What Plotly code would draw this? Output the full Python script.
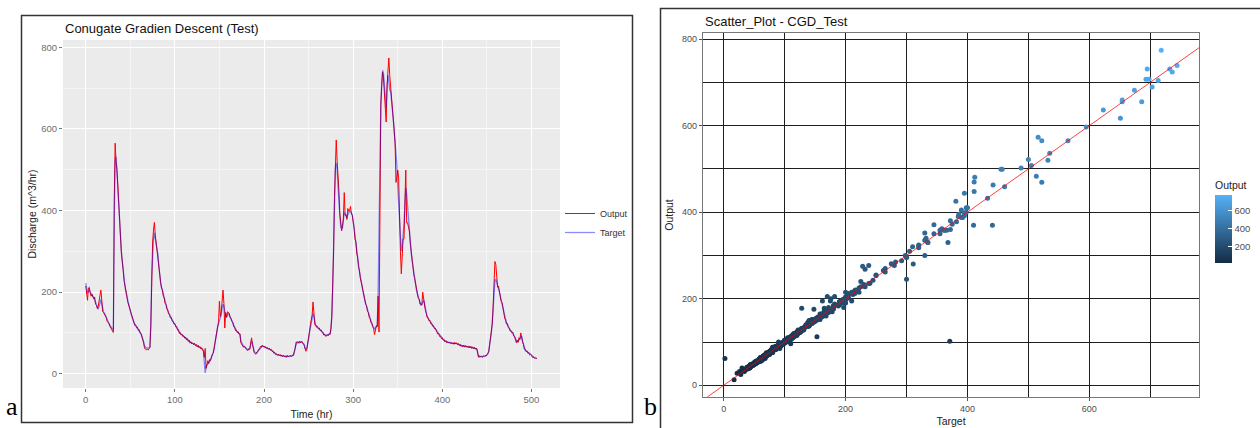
import plotly.graph_objects as go

# ---------------- data ----------------
target = [
    222, 210, 197, 203, 205, 200, 196, 192, 190, 188,
    182, 178, 172, 168, 158, 165, 175, 182, 172, 158,
    152, 148, 143, 137, 131, 127, 123, 119, 116, 113,
    110, 107, 381, 522, 532, 488, 442, 400, 362, 330,
    300, 275, 250, 232, 215, 200, 190, 180, 168, 158,
    152, 145, 138, 131, 125, 121, 118, 115, 112, 109,
    106, 102, 97, 92, 86, 78, 68, 64, 63, 63,
    63, 64, 66, 120, 238, 310, 330, 345, 332, 320,
    305, 292, 265, 240, 222, 212, 203, 192, 183, 174,
    166, 160, 154, 149, 144, 139, 135, 131, 127, 124,
    120, 117, 113, 109, 105, 101, 99, 97, 95, 93,
    91, 89, 87, 85, 83, 81, 79, 77, 76, 75,
    74, 73, 72, 71, 69, 68, 67, 66, 65, 63,
    62, 60, 58, 30, 2, 17, 22, 26, 28, 30,
    34, 38, 45, 52, 60, 75, 90, 105, 115, 122,
    128, 135, 145, 162, 170, 165, 153, 142, 140, 145,
    148, 144, 140, 134, 130, 124, 118, 112, 108, 105,
    103, 101, 99, 96, 80, 74, 70, 67, 66, 64,
    62, 60, 59, 60, 62, 70, 80, 75, 62, 55,
    51, 50, 51, 55, 58, 62, 65, 67, 68, 67,
    66, 65, 64, 63, 62, 62, 61, 60, 58, 56,
    54, 52, 50, 48, 47, 46, 46, 45, 45, 44,
    44, 43, 43, 42, 42, 42, 43, 42, 42, 42,
    43, 43, 44, 46, 52, 65, 75, 77, 76, 76,
    77, 77, 78, 76, 75, 72, 62, 60, 62, 70,
    85, 100, 115, 128, 138, 148, 140, 122, 118, 116,
    114, 112, 110, 108, 106, 104, 100, 97, 95, 94,
    94, 95, 95, 96, 98, 107, 140, 205, 300, 433,
    505, 516, 500, 461, 411, 386, 362, 355, 358, 372,
    395, 392, 385, 382, 390, 395, 398, 398, 395, 390,
    375, 355, 335, 320, 300, 282, 265, 250, 238, 225,
    212, 200, 190, 180, 172, 164, 156, 148, 140, 133,
    127, 122, 117, 113, 110, 112, 115, 118, 200, 371,
    535, 654, 713, 744, 736, 703, 686, 651, 698, 732,
    718, 695, 693, 674, 654, 623, 595, 565, 522, 513,
    457, 412, 366, 330, 300, 311, 335, 368, 411, 455,
    441, 410, 372, 345, 320, 298, 280, 262, 245, 230,
    216, 205, 196, 188, 180, 172, 168, 170, 176, 180,
    172, 158, 145, 140, 136, 132, 128, 125, 122, 119,
    116, 113, 110, 107, 102, 99, 96, 93, 90, 88,
    86, 84, 82, 80, 79, 78, 77, 77, 76, 76,
    75, 75, 74, 74, 75, 75, 74, 73, 72, 71,
    70, 69, 68, 68, 68, 67, 67, 67, 66, 66,
    66, 65, 65, 64, 64, 63, 63, 62, 61, 60,
    44, 42, 42, 42, 42, 42, 42, 43, 43, 44,
    45, 48, 55, 68, 85, 100, 125, 160, 200, 228,
    232, 225, 215, 210, 200, 190, 180, 172, 162, 150,
    138, 128, 124, 120, 115, 110, 107, 104, 102, 100,
    95, 90, 85, 80, 78, 80, 82, 86, 90, 92,
    80, 70, 62, 58, 56, 54, 52, 50, 48, 46,
    44, 42, 40, 39, 38, 38, 37,
]

output = [
    215, 195, 180, 210, 212, 198, 190, 195, 186, 183,
    188, 170, 168, 160, 165, 178, 195, 205, 180, 152,
    150, 146, 145, 138, 128, 125, 124, 117, 113, 110,
    105, 101, 425, 565, 520, 502, 463, 410, 358, 335,
    296, 281, 255, 228, 218, 204, 193, 177, 170, 160,
    155, 143, 140, 133, 127, 119, 120, 113, 114, 107,
    108, 100, 99, 90, 88, 75, 62, 60, 59, 60,
    58, 61, 64, 115, 277, 320, 352, 371, 340, 318,
    310, 288, 270, 236, 225, 210, 206, 190, 186, 172,
    170, 158, 157, 147, 146, 137, 138, 129, 129, 122,
    123, 115, 116, 107, 108, 99, 101, 95, 97, 91,
    93, 87, 90, 83, 86, 79, 82, 75, 78, 73,
    76, 71, 75, 69, 72, 66, 70, 64, 67, 61,
    64, 58, 55, 40, 62, 13, 28, 32, 25, 35,
    32, 42, 48, 50, 64, 72, 95, 110, 118, 128,
    178, 140, 152, 195, 205, 172, 112, 150, 138, 152,
    150, 148, 137, 136, 128, 126, 115, 114, 106, 107,
    101, 103, 97, 98, 76, 72, 68, 65, 68, 62,
    60, 58, 57, 62, 60, 75, 88, 72, 58, 52,
    49, 48, 53, 54, 60, 60, 67, 65, 70, 66,
    68, 64, 66, 62, 64, 60, 63, 58, 60, 55,
    56, 50, 52, 47, 49, 45, 48, 44, 47, 43,
    46, 42, 45, 41, 44, 40, 45, 41, 44, 43,
    45, 42, 46, 45, 55, 62, 78, 76, 79, 75,
    80, 76, 80, 78, 74, 70, 58, 55, 60, 72,
    90, 104, 120, 130, 145, 176, 150, 120, 120, 114,
    116, 110, 112, 106, 108, 102, 102, 95, 97, 92,
    92, 96, 93, 98, 96, 110, 138, 210, 296, 432,
    508, 573, 522, 459, 448, 395, 358, 350, 362, 380,
    444, 388, 390, 378, 405, 398, 400, 410, 392, 388,
    372, 358, 330, 324, 296, 285, 262, 254, 235, 228,
    215, 203, 187, 183, 170, 167, 153, 150, 138, 135,
    125, 124, 115, 110, 96, 108, 118, 115, 190, 102,
    536, 659, 704, 739, 724, 689, 655, 617, 707, 731,
    774, 731, 707, 682, 655, 636, 597, 565, 469, 483,
    499, 481, 358, 300, 245, 280, 330, 330, 470, 499,
    370, 370, 360, 350, 322, 300, 277, 265, 243, 233,
    220, 202, 199, 185, 183, 170, 172, 168, 200, 182,
    175, 155, 148, 138, 138, 130, 131, 123, 124, 117,
    118, 111, 112, 105, 104, 97, 98, 91, 92, 86,
    88, 82, 84, 78, 81, 76, 79, 75, 78, 74,
    77, 73, 76, 72, 77, 73, 76, 71, 74, 69,
    72, 67, 70, 66, 70, 65, 69, 65, 68, 64,
    68, 63, 67, 62, 66, 61, 65, 60, 63, 58,
    48, 40, 44, 41, 43, 40, 44, 42, 45, 43,
    47, 50, 53, 70, 88, 104, 122, 165, 215, 275,
    268, 240, 212, 215, 198, 193, 177, 175, 159, 153,
    136, 131, 122, 123, 113, 112, 105, 106, 100, 102,
    93, 92, 83, 76, 82, 77, 88, 84, 100, 85,
    78, 72, 60, 60, 54, 56, 50, 52, 46, 48,
    46, 40, 42, 38, 40, 37, 38,
]

time_hr = list(range(len(target)))

time_ticks = [0, 100, 200, 300, 400, 500]
discharge_ticks = [0, 200, 400, 600, 800]
scatter_x_ticks = [0, 200, 400, 600]
scatter_y_ticks = [0, 200, 400, 600, 800]
colorbar_ticks = [200, 400, 600]

# ---------------- layout helpers ----------------
W, H = 1260, 428


def fx(p):
    return p / W


def fy(p):
    return 1 - p / H


left_xrange = [-25.5, 532]
left_yrange = [-35, 818]
right_xrange = [-34, 780]
right_yrange = [-27, 814]

FONT = "Liberation Sans, Arial, sans-serif"

fig = go.Figure()

fig.add_trace(go.Scatter(
    x=time_hr, y=output, mode="lines", name="Output",
    line=dict(color="#FF0000", width=1), xaxis="x", yaxis="y"))
fig.add_trace(go.Scatter(
    x=time_hr, y=target, mode="lines", name="Target",
    line=dict(color="rgba(0,0,255,0.45)", width=1.3), xaxis="x", yaxis="y"))

fig.add_trace(go.Scatter(
    x=target, y=output, mode="markers", showlegend=False,
    marker=dict(
        size=5, color=output,
        colorscale=[[0, "#132B43"], [1, "#56B1F7"]],
        cmin=min(output), cmax=max(output),
        colorbar=dict(
            thickness=17, thicknessmode="pixels",
            len=85, lenmode="pixels",
            x=fx(1215), xanchor="left", xpad=0,
            y=fy(263), yanchor="bottom", ypad=0,
            outlinewidth=0,
            tickvals=colorbar_ticks, ticks="inside", tickcolor="white",
            ticklen=4, tickwidth=1,
            tickfont=dict(family=FONT, size=9.5, color="#4D4D4D"),
            title=dict(text="Output", side="top",
                       font=dict(family=FONT, size=10.5, color="#222"))),
    ),
    xaxis="x2", yaxis="y2"))

d0 = max(right_xrange[0], right_yrange[0])
d1 = min(right_xrange[1], right_yrange[1])

shapes = [
    # grey panel background (left)
    dict(type="rect", xref="x domain", yref="y domain", x0=0, x1=1, y0=0, y1=1,
         fillcolor="#EBEBEB", line=dict(width=0), layer="below"),
    # identity line (right)
    dict(type="line", xref="x2", yref="y2", x0=d0, y0=d0, x1=d1, y1=d1,
         line=dict(color="rgba(255,0,0,0.75)", width=1), layer="above"),
    # panel frames
    dict(type="rect", xref="paper", yref="paper",
         x0=fx(21.5), x1=fx(632.5), y0=fy(422.5), y1=fy(15.5),
         line=dict(color="#333", width=1.5), fillcolor="rgba(0,0,0,0)"),
    dict(type="rect", xref="paper", yref="paper",
         x0=fx(660.5), x1=fx(1263), y0=fy(431), y1=fy(8.5),
         line=dict(color="#333", width=1.5), fillcolor="rgba(0,0,0,0)"),
]

annotations = [
    dict(text="Conugate Gradien Descent (Test)", xref="paper", yref="paper",
         x=fx(63), y=fy(28), xanchor="left", yanchor="middle", showarrow=False,
         font=dict(family=FONT, size=13, color="#111")),
    dict(text="Scatter_Plot - CGD_Test", xref="paper", yref="paper",
         x=fx(703), y=fy(21), xanchor="left", yanchor="middle", showarrow=False,
         font=dict(family=FONT, size=13, color="#111")),
    dict(text="a", xref="paper", yref="paper", x=fx(4), y=fy(423),
         xanchor="left", yanchor="bottom", showarrow=False,
         font=dict(family="Liberation Serif, Times New Roman, serif", size=26, color="#000")),
    dict(text="b", xref="paper", yref="paper", x=fx(642), y=fy(423),
         xanchor="left", yanchor="bottom", showarrow=False,
         font=dict(family="Liberation Serif, Times New Roman, serif", size=26, color="#000")),
]

fig.update_layout(
    width=W, height=H, margin=dict(l=0, r=0, t=0, b=0),
    paper_bgcolor="white", plot_bgcolor="rgba(0,0,0,0)",
    font=dict(family=FONT),
    shapes=shapes, annotations=annotations,
    legend=dict(x=fx(560), y=fy(199), xanchor="left", yanchor="top",
                bgcolor="rgba(0,0,0,0)", font=dict(family=FONT, size=9, color="#333"),
                itemwidth=30, tracegroupgap=0),
    xaxis=dict(domain=[fx(63), fx(560)], range=left_xrange, anchor="y",
               tickvals=time_ticks, showgrid=True, gridcolor="white", gridwidth=1.2,
               minor=dict(dtick=50, tick0=0, showgrid=True, gridcolor="#F5F5F5", gridwidth=0.6),
               zeroline=False, showline=False,
               ticks="outside", ticklen=3, tickcolor="#777",
               tickfont=dict(family=FONT, size=9.5, color="#6E6E6E"),
               title=dict(text="Time (hr)", standoff=6,
                          font=dict(family=FONT, size=10.5, color="#222"))),
    yaxis=dict(domain=[fy(388), fy(40)], range=left_yrange, anchor="x",
               tickvals=discharge_ticks, showgrid=True, gridcolor="white", gridwidth=1.2,
               minor=dict(dtick=100, tick0=0, showgrid=True, gridcolor="#F5F5F5", gridwidth=0.6),
               zeroline=False, showline=False,
               ticks="outside", ticklen=3, tickcolor="#777",
               tickfont=dict(family=FONT, size=9.5, color="#6E6E6E"),
               title=dict(text="Discharge (m^3/hr)", standoff=2,
                          font=dict(family=FONT, size=10.5, color="#222"))),
    xaxis2=dict(domain=[fx(703), fx(1199)], range=right_xrange, anchor="y2",
                tickvals=scatter_x_ticks, showgrid=True, gridcolor="#1E1E1E", gridwidth=1,
                minor=dict(dtick=100, tick0=0, showgrid=True, gridcolor="#1E1E1E", gridwidth=1),
                zeroline=False, showline=True, mirror=True, linecolor="#777", linewidth=1.2,
                ticks="outside", ticklen=3, tickcolor="#555",
                tickfont=dict(family=FONT, size=9, color="#4D4D4D"),
                title=dict(text="Target", standoff=4,
                           font=dict(family=FONT, size=10.5, color="#222"))),
    yaxis2=dict(domain=[fy(397), fy(33)], range=right_yrange, anchor="x2",
                tickvals=scatter_y_ticks, showgrid=True, gridcolor="#1E1E1E", gridwidth=1,
                minor=dict(dtick=100, tick0=0, showgrid=True, gridcolor="#1E1E1E", gridwidth=1),
                zeroline=False, showline=True, mirror=True, linecolor="#777", linewidth=1.2,
                ticks="outside", ticklen=3, tickcolor="#555",
                tickfont=dict(family=FONT, size=9, color="#4D4D4D"),
                title=dict(text="Output", standoff=6,
                           font=dict(family=FONT, size=10.5, color="#222"))),
)

fig.write_html("out.html", config={"displayModeBar": False},
               post_script="document.body.style.margin='0px';")
